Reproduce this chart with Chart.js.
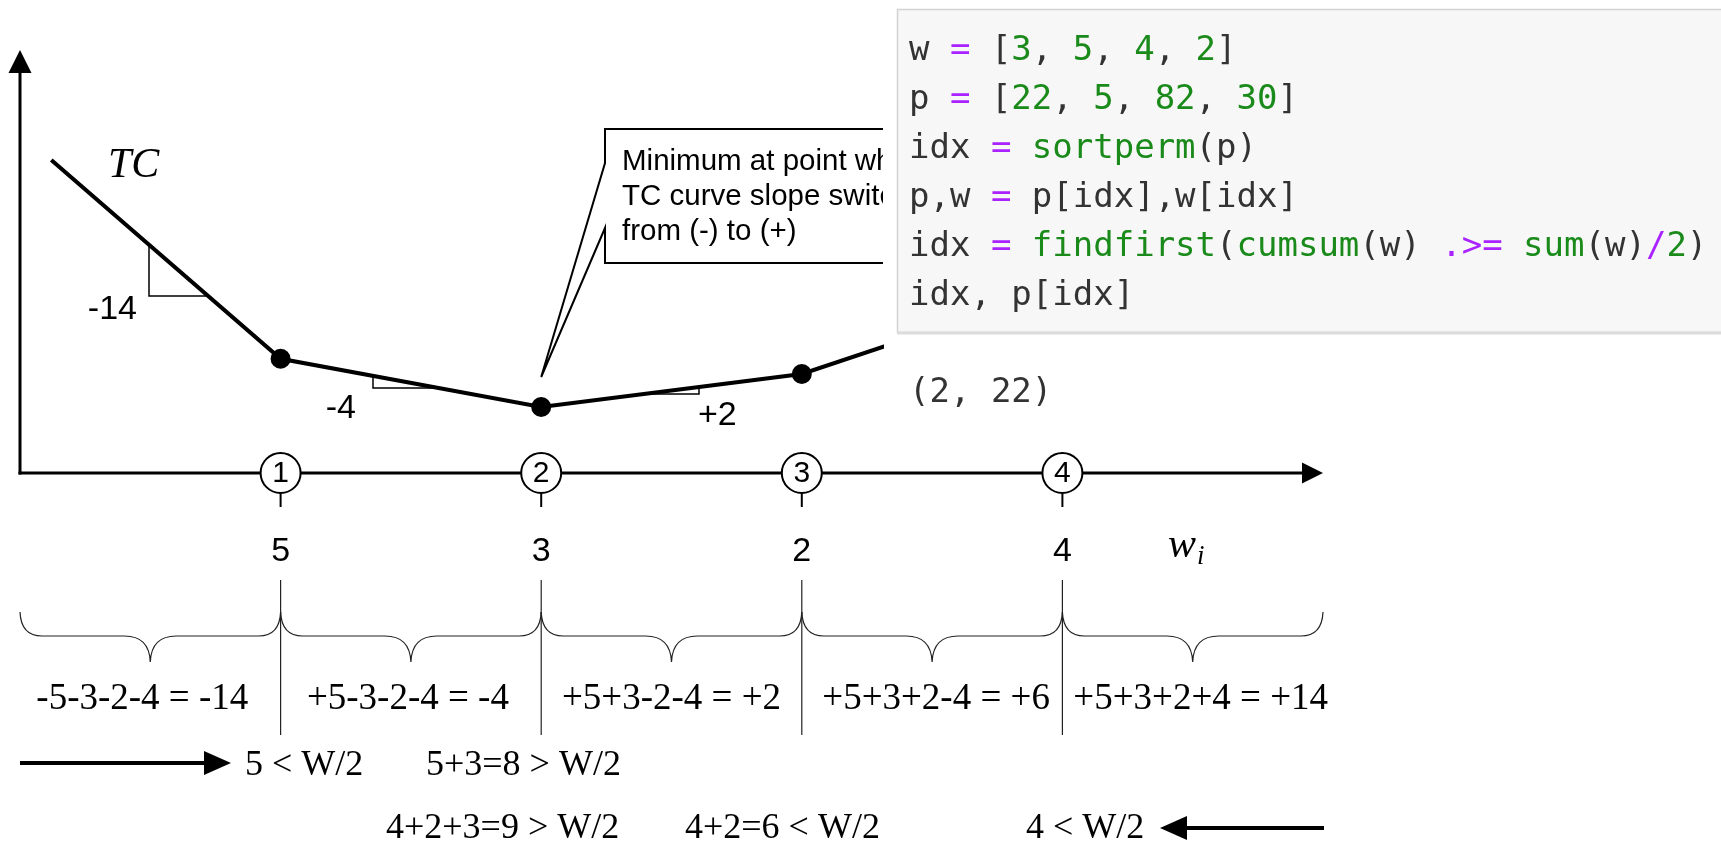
<!DOCTYPE html>
<html>
<head>
<meta charset="utf-8">
<script src="https://cdn.jsdelivr.net/npm/chart.js@4.4.1/dist/chart.umd.min.js"></script>
<style>
  html, body { margin: 0; padding: 0; background: #ffffff; }
  #wrap { position: relative; width: 1721px; height: 841px; }
</style>
</head>
<body>
<div id="wrap"><canvas id="c"></canvas></div>
<script>
// ---- data ----
const vertexX = [0.12, 1, 2, 3, 4];            // x positions of TC vertices (order index)
const tcValues = [74, 27, 15.6, 23.4, 44];      // TC curve heights (arbitrary units)
const pointIds = ['1', '2', '3', '4'];
const weights = ['5', '3', '2', '4'];
const slopeLabels = ['-14', '-4', '+2'];
const segmentSums = ['-5-3-2-4 = -14', '+5-3-2-4 = -4', '+5+3-2-4 = +2', '+5+3+2-4 = +6', '+5+3+2+4 = +14'];
const leftScanTexts = ['5 < W/2', '5+3=8 > W/2'];
const rightScanTexts = ['4+2+3=9 > W/2', '4+2=6 < W/2', '4 < W/2'];
const calloutLines = ['Minimum at point where', 'TC curve slope switches', 'from (-) to (+)'];
const codeLines = [
  'w = [3, 5, 4, 2]',
  'p = [22, 5, 82, 30]',
  'idx = sortperm(p)',
  'p,w = p[idx],w[idx]',
  'idx = findfirst(cumsum(w) .>= sum(w)/2)',
  'idx, p[idx]'
];
const codeOutput = '(2, 22)';
const builtins = ['sortperm', 'findfirst', 'cumsum', 'sum'];

const SANS = '"Liberation Sans", Arial, sans-serif';
const SERIF = '"Liberation Serif", "Times New Roman", serif';
const MONO = '"DejaVu Sans Mono", "Liberation Mono", monospace';

function arrowHead(ctx, tipX, tipY, dir, len, half) {
  ctx.beginPath();
  if (dir === 'up') {
    ctx.moveTo(tipX, tipY); ctx.lineTo(tipX - half, tipY + len); ctx.lineTo(tipX + half, tipY + len);
  } else if (dir === 'right') {
    ctx.moveTo(tipX, tipY); ctx.lineTo(tipX - len, tipY - half); ctx.lineTo(tipX - len, tipY + half);
  } else {
    ctx.moveTo(tipX, tipY); ctx.lineTo(tipX + len, tipY - half); ctx.lineTo(tipX + len, tipY + half);
  }
  ctx.closePath(); ctx.fill();
}

const diagramPlugin = {
  id: 'diagram',
  beforeDraw(chart) {
    const ctx = chart.ctx;
    ctx.save();
    ctx.fillStyle = '#ffffff';
    ctx.fillRect(0, 0, chart.width, chart.height);
    const xs = chart.scales.x, ys = chart.scales.y;
    const X = v => xs.getPixelForValue(v), Y = v => ys.getPixelForValue(v);
    const x0 = X(0), y0 = Y(0);
    ctx.strokeStyle = '#000'; ctx.fillStyle = '#000'; ctx.lineWidth = 3;
    // vertical axis
    ctx.beginPath(); ctx.moveTo(x0, y0 + 1.5); ctx.lineTo(x0, ys.top + 20); ctx.stroke();
    arrowHead(ctx, x0, ys.top, 'up', 23, 11.5);
    // horizontal axis
    ctx.beginPath(); ctx.moveTo(x0 - 1.5, y0); ctx.lineTo(xs.right - 18, y0); ctx.stroke();
    arrowHead(ctx, xs.right, y0, 'right', 21, 10.5);
    ctx.restore();
  },
  afterDatasetsDraw(chart) {
    const ctx = chart.ctx;
    const xs = chart.scales.x, ys = chart.scales.y;
    const X = v => xs.getPixelForValue(v), Y = v => ys.getPixelForValue(v);
    const x0 = X(0), y0 = Y(0);
    const lineY = (i, px) => {
      const ax = X(vertexX[i]), ay = Y(tcValues[i]), bx = X(vertexX[i + 1]), by = Y(tcValues[i + 1]);
      return ay + (by - ay) * (px - ax) / (bx - ax);
    };
    const lineX = (i, py) => {
      const ax = X(vertexX[i]), ay = Y(tcValues[i]), bx = X(vertexX[i + 1]), by = Y(tcValues[i + 1]);
      return ax + (bx - ax) * (py - ay) / (by - ay);
    };
    ctx.save();
    ctx.strokeStyle = '#000'; ctx.fillStyle = '#000';

    // slope triangles
    ctx.lineWidth = 1.5;
    ctx.textBaseline = 'alphabetic';
    {
      const ax = 149, ay = lineY(0, ax), by = 296, bx = lineX(0, by);
      ctx.beginPath(); ctx.moveTo(ax, ay); ctx.lineTo(ax, by); ctx.lineTo(bx, by); ctx.stroke();
      ctx.font = '34px ' + SANS; ctx.textAlign = 'right';
      ctx.fillText(slopeLabels[0], 137, 319);
    }
    {
      const ax = 373, ay = lineY(1, ax), by = ay + 12, bx = lineX(1, by);
      ctx.beginPath(); ctx.moveTo(ax, ay); ctx.lineTo(ax, by); ctx.lineTo(bx, by); ctx.stroke();
      ctx.font = '34px ' + SANS; ctx.textAlign = 'right';
      ctx.fillText(slopeLabels[1], 356, 418);
    }
    {
      const bx = 699, by = lineY(2, bx), cy = by + 7, ax = lineX(2, cy);
      ctx.beginPath(); ctx.moveTo(ax, cy); ctx.lineTo(bx, cy); ctx.lineTo(bx, by); ctx.stroke();
      ctx.font = '34px ' + SANS; ctx.textAlign = 'left';
      ctx.fillText(slopeLabels[2], 698, 425);
    }

    // TC label
    ctx.font = 'italic 42px ' + SERIF; ctx.textAlign = 'left';
    ctx.fillText('TC', 108, 177);

    // callout
    {
      const tipX = X(vertexX[2]), tipY = Y(tcValues[2]) - 30;
      const L = 605, T = 129, B = 263, R = 883;
      ctx.lineWidth = 2;
      ctx.beginPath();
      ctx.moveTo(R, T); ctx.lineTo(L, T); ctx.lineTo(L, 163); ctx.lineTo(tipX, tipY);
      ctx.lineTo(L, 228); ctx.lineTo(L, B); ctx.lineTo(R, B);
      ctx.stroke();
      ctx.font = '29.5px ' + SANS; ctx.textAlign = 'left'; ctx.textBaseline = 'alphabetic';
      ctx.save();
      ctx.beginPath(); ctx.rect(L, T, R - L, B - T); ctx.clip();
      calloutLines.forEach((t, i) => ctx.fillText(t, 622, 170 + i * 35));
      ctx.restore();
    }

    // circles on the axis, ticks, weights
    pointIds.forEach((id, k) => {
      const cx = X(k + 1);
      ctx.lineWidth = 2;
      ctx.beginPath(); ctx.moveTo(cx, y0 + 20); ctx.lineTo(cx, y0 + 34); ctx.stroke();
      ctx.beginPath(); ctx.arc(cx, y0, 20, 0, Math.PI * 2);
      ctx.fillStyle = '#fff'; ctx.fill(); ctx.stroke();
      ctx.fillStyle = '#000';
      ctx.font = '30px ' + SANS; ctx.textAlign = 'center'; ctx.textBaseline = 'middle';
      ctx.fillText(id, cx, y0 + 1);
      ctx.font = '34px ' + SANS; ctx.textBaseline = 'alphabetic';
      ctx.fillText(weights[k], cx, 561);
    });
    // w_i
    ctx.font = 'italic 42px ' + SERIF; ctx.textAlign = 'left'; ctx.textBaseline = 'alphabetic';
    ctx.fillText('w', 1168, 557);
    ctx.font = 'italic 27px ' + SERIF;
    ctx.fillText('i', 1197, 564);

    // separators
    ctx.lineWidth = 1.2; ctx.strokeStyle = '#222';
    for (let k = 1; k <= 4; k++) {
      ctx.beginPath(); ctx.moveTo(X(k), 580); ctx.lineTo(X(k), 735); ctx.stroke();
    }
    // braces
    const bTop = 612, bMid = 636, bTip = 662;
    for (let k = 0; k < 5; k++) {
      const a = X(k), b = X(k + 1), c = (a + b) / 2;
      ctx.beginPath();
      ctx.moveTo(a, bTop);
      ctx.quadraticCurveTo(a + 1, bMid, a + 22, bMid);
      ctx.lineTo(c - 26, bMid);
      ctx.quadraticCurveTo(c - 1, bMid, c, bTip);
      ctx.quadraticCurveTo(c + 1, bMid, c + 26, bMid);
      ctx.lineTo(b - 22, bMid);
      ctx.quadraticCurveTo(b - 1, bMid, b, bTop);
      ctx.stroke();
    }
    // sums
    ctx.fillStyle = '#000';
    ctx.font = '37px ' + SERIF; ctx.textAlign = 'center'; ctx.textBaseline = 'alphabetic';
    const sumOffsets = [-8, -3, 0, 4, 8];
    segmentSums.forEach((t, k) => ctx.fillText(t, (X(k) + X(k + 1)) / 2 + sumOffsets[k], 709));

    // left-to-right scan arrow
    ctx.font = '36px ' + SERIF;
    ctx.strokeStyle = '#000'; ctx.lineWidth = 4;
    ctx.beginPath(); ctx.moveTo(x0, 763); ctx.lineTo(208, 763); ctx.stroke();
    arrowHead(ctx, 231, 763, 'right', 27, 12);
    ctx.textAlign = 'left';
    ctx.fillText(leftScanTexts[0], 245, 775);
    ctx.fillText(leftScanTexts[1], 426, 775);
    // right-to-left scan arrow
    ctx.beginPath(); ctx.moveTo(1184, 828); ctx.lineTo(xs.right + 1, 828); ctx.stroke();
    arrowHead(ctx, 1160, 828, 'left', 27, 12);
    ctx.fillText(rightScanTexts[0], 386, 838);
    ctx.fillText(rightScanTexts[1], 685, 838);
    ctx.fillText(rightScanTexts[2], 1026, 838);

    // pasted code screenshot (white area + grey cell)
    ctx.fillStyle = '#ffffff';
    ctx.fillRect(884, 0, chart.width - 884, 440);
    ctx.fillStyle = '#f7f7f7';
    ctx.fillRect(897, 9, chart.width - 897 + 5, 324);
    ctx.strokeStyle = '#d2d2d2'; ctx.lineWidth = 1.5;
    ctx.strokeRect(897.5, 9.5, chart.width - 897 + 5, 323);
    ctx.strokeStyle = '#dcdcdc'; ctx.lineWidth = 3;
    ctx.beginPath(); ctx.moveTo(897, 333); ctx.lineTo(chart.width, 333); ctx.stroke();

    ctx.font = '34px ' + MONO; ctx.textAlign = 'left'; ctx.textBaseline = 'middle';
    const cw = ctx.measureText('M').width;
    const colorOf = tok => {
      if (tok === '=' || tok === '.>=' || tok === '/') return '#aa22ff';
      if (/^\d+$/.test(tok)) return '#1a8a1a';
      if (builtins.includes(tok)) return '#1a8a1a';
      return '#333333';
    };
    codeLines.forEach((line, i) => {
      const y = 51 + i * 49;
      const re = /\.>=|[=\/]|\d+|[A-Za-z_]+|./g;
      let m;
      while ((m = re.exec(line)) !== null) {
        ctx.fillStyle = colorOf(m[0]);
        ctx.fillText(m[0], 909 + m.index * cw, y);
      }
    });
    ctx.fillStyle = '#333333';
    ctx.fillText(codeOutput, 909, 393);
    ctx.restore();
  }
};

new Chart(document.getElementById('c'), {
  type: 'line',
  data: {
    datasets: [{
      label: 'TC',
      data: vertexX.map((x, i) => ({ x: x, y: tcValues[i] })),
      borderColor: '#000',
      backgroundColor: '#000',
      borderWidth: 4,
      pointRadius: [0, 10, 10, 10, 10],
      pointBackgroundColor: '#000',
      pointBorderWidth: 0,
      tension: 0,
      fill: false,
      clip: false
    }]
  },
  options: {
    responsive: true,
    maintainAspectRatio: false,
    animation: false,
    events: [],
    layout: { padding: { left: 20, top: 50, right: 398, bottom: 368 } },
    plugins: { legend: { display: false }, tooltip: { enabled: false }, title: { display: false } },
    scales: {
      x: { type: 'linear', min: 0, max: 5, display: false },
      y: { type: 'linear', min: 0, max: 100, display: false }
    }
  },
  plugins: [diagramPlugin]
});
</script>
</body>
</html>
